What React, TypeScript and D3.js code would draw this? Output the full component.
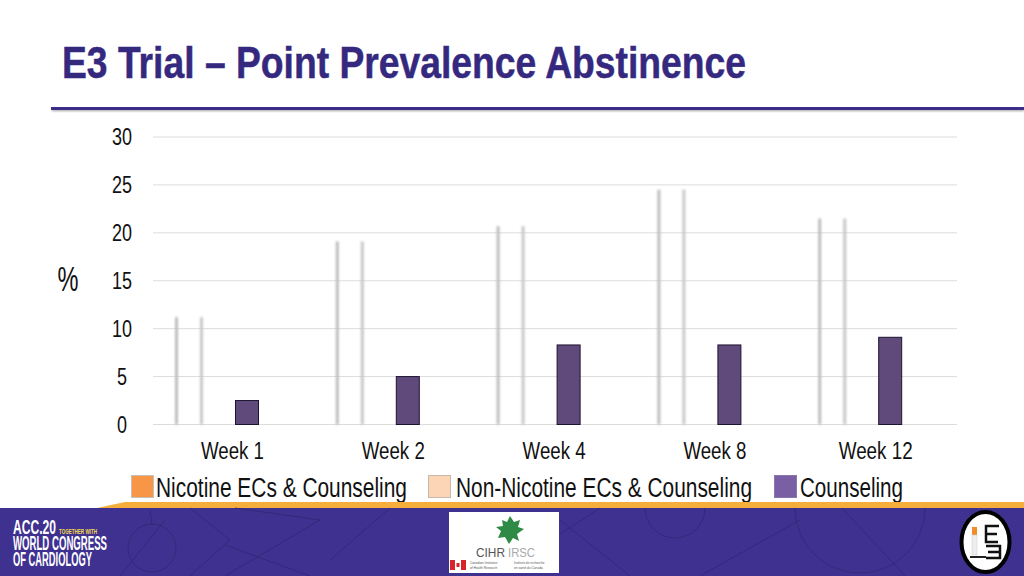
import React from "react";
import * as d3 from "d3";

const weeks = ["Week 1", "Week 2", "Week 4", "Week 8", "Week 12"];
const nicotine = [11.2, 19.1, 20.7, 24.5, 21.5];
const nonNicotine = [11.2, 19.1, 20.7, 24.5, 21.5];
const counseling = [2.5, 5, 8.3, 8.3, 9.1];
const yTicks = [0, 5, 10, 15, 20, 25, 30];
const legendItems = [
  { label: "Nicotine ECs & Counseling", fill: "#f79646", stroke: "#c9c0b8", x: 131, tx: 156, tw: 251 },
  { label: "Non-Nicotine ECs & Counseling", fill: "#fbd5b5", stroke: "#c8b8a8", x: 428, tx: 456, tw: 296 },
  { label: "Counseling", fill: "#7b5fa5", stroke: "#8a78ac", x: 774, tx: 800, tw: 103 },
];
const footerLines = [
  "M120,576 L165,520 M150,510 L152,525",
  "M190,576 L230,540 L190,508",
  "M225,545 L310,576 M235,508 L320,520 L225,576",
  "M330,560 L390,508 M560,520 L630,576 M600,508 L520,560",
  "M645,508 A 30 30 0 0 0 705,508 M795,508 A 65 65 0 0 0 925,508",
  "M842,508 L905,576 M700,576 L800,520",
];

const F = "'Liberation Sans', Arial, sans-serif";
const x = d3.scaleBand<string>().domain(weeks).range([153, 957]);
const y = d3.scaleLinear().domain([0, 30]).range([424.5, 137]);
const off = { a: 23.5, b: 48.5, c: 82 };

function T({ x: tx, y: ty, w, size, anchor, fill = "#111", bold, children }: any) {
  return (
    <text x={tx} y={ty} fontSize={size} fontFamily={F} fontWeight={bold ? 700 : 400} fill={fill}
      textAnchor={anchor} textLength={w} lengthAdjust="spacingAndGlyphs">{children}</text>
  );
}

export default function App() {
  return (
    <svg width={1024} height={576} style={{ position: "absolute", left: 0, top: 0, background: "#fff" }}>
      <defs>
        <filter id="soft" x="-200%" width="500%" y="-5%" height="110%"><feGaussianBlur stdDeviation="0.9" /></filter>
        <filter id="shadow" x="-2%" width="104%" y="-200%" height="500%"><feGaussianBlur stdDeviation="1.2" /></filter>
      </defs>
      <text x={62} y={78} fontSize={44} fontFamily={F} fontWeight={700} fill="#35297f" stroke="#35297f" strokeWidth={0.5}
        textLength={684} lengthAdjust="spacingAndGlyphs">E3 Trial – Point Prevalence Abstinence</text>
      <rect x={52} y={109} width={972} height={2} fill="#999" filter="url(#shadow)" />
      <rect x={51} y={107} width={973} height={3} fill="#3a2e88" />

      {yTicks.map((t) => (
        <g key={t}>
          <line x1={153} x2={957} y1={y(t)} y2={y(t)} stroke="#dcdcdc" strokeWidth={1} />
          <T x={122} y={y(t) + 8} size={23} anchor="middle" w={t < 10 ? 10 : 20}>{t}</T>
        </g>
      ))}
      <T x={68} y={291} size={35} anchor="middle" w={21}>%</T>

      {weeks.map((w, i) => {
        const x0 = x(w) as number;
        return (
          <g key={w}>
            <rect x={x0 + off.a - 1.5} y={y(nicotine[i])} width={3} height={y(0) - y(nicotine[i])} fill="#bdbdbd" filter="url(#soft)" />
            <rect x={x0 + off.b - 1.5} y={y(nonNicotine[i])} width={3} height={y(0) - y(nonNicotine[i])} fill="#c8c8c8" filter="url(#soft)" />
            <rect x={x0 + off.c + 0.5} y={y(counseling[i])} width={23} height={y(0) - y(counseling[i])} fill="#604a7b" stroke="#1c1430" strokeWidth={1} />
            <T x={x0 + 79.5} y={459} size={23} anchor="middle" w={w === "Week 12" ? 74 : 63}>{w}</T>
          </g>
        );
      })}

      {legendItems.map((l) => (
        <g key={l.label}>
          <rect x={l.x + 0.5} y={475.5} width={22} height={22} fill={l.fill} stroke={l.stroke} />
          <T x={l.tx} y={497} w={l.tw} size={27}>{l.label}</T>
        </g>
      ))}

      <rect x={0} y={508} width={1024} height={68} fill="#3f3190" />
      <path d="M97,508 L125,502 L1024,502 L1024,508 Z" fill="#f5ad3c" />
      <path d={footerLines.join(" ")} fill="none" stroke="#2f2570" strokeWidth={1} opacity={0.7} />
      <circle cx={152} cy={548} r={24} fill="none" stroke="#2f2570" opacity={0.7} />

      <text fontFamily={F} fontWeight={700} fontSize={21} fill="#fff">
        <tspan x={13} y={534} textLength={43} lengthAdjust="spacingAndGlyphs">ACC.20</tspan>
        <tspan x={59} y={534} fontSize={6.5} fill="#f3dc4a" textLength={38} lengthAdjust="spacingAndGlyphs">TOGETHER WITH</tspan>
        <tspan x={13} y={550} textLength={94} lengthAdjust="spacingAndGlyphs">WORLD CONGRESS</tspan>
        <tspan x={13} y={566} textLength={79} lengthAdjust="spacingAndGlyphs">OF CARDIOLOGY</tspan>
      </text>

      <rect x={449} y={512} width={110} height={61} fill="#fff" />
      <path d="M510,516 L514,522 L520,520 L518,527 L524,529 L517,534 L519,541 L513,538 L509,544 L505,537 L498,538 L501,531 L496,527 L503,526 L502,520 L507,522 Z" fill="#2f8a45" />
      <T x={476} y={557} w={29} size={13} fill="#555">CIHR</T>
      <T x={508} y={557} w={27} size={13} fill="#aaa">IRSC</T>
      <rect x={450} y={560} width={5} height={10} fill="#d8232a" />
      <rect x={455} y={560} width={6} height={10} fill="#fff" />
      <rect x={461} y={560} width={5} height={10} fill="#d8232a" />
      <rect x={456.5} y={563} width={3} height={4} fill="#d8232a" />
      <text x={470} y={564} fontSize={3.2} fontFamily={F} fill="#555">Canadian Institutes</text>
      <text x={470} y={569} fontSize={3.2} fontFamily={F} fill="#555">of Health Research</text>
      <text x={514} y={564} fontSize={3.2} fontFamily={F} fill="#555">Instituts de recherche</text>
      <text x={514} y={569} fontSize={3.2} fontFamily={F} fill="#555">en santé du Canada</text>

      <ellipse cx={985.5} cy={542} rx={24} ry={30} fill="#fff" stroke="#000" strokeWidth={4} />
      <rect x={972} y={527} width={5} height={8} fill="#f28c28" />
      <rect x={972} y={535} width={5} height={20} fill="#eeeeee" stroke="#ccc" strokeWidth={0.5} />
      <rect x={970} y={556} width={16} height={2} fill="#222" />
      <path d="M999,526 H986 V542 H998 M986,534 H997" fill="none" stroke="#111" strokeWidth={2.5} />
      <path d="M986,546 H1000 V558 H986 M988,552 H1000" fill="none" stroke="#111" strokeWidth={2.5} />
    </svg>
  );
}
